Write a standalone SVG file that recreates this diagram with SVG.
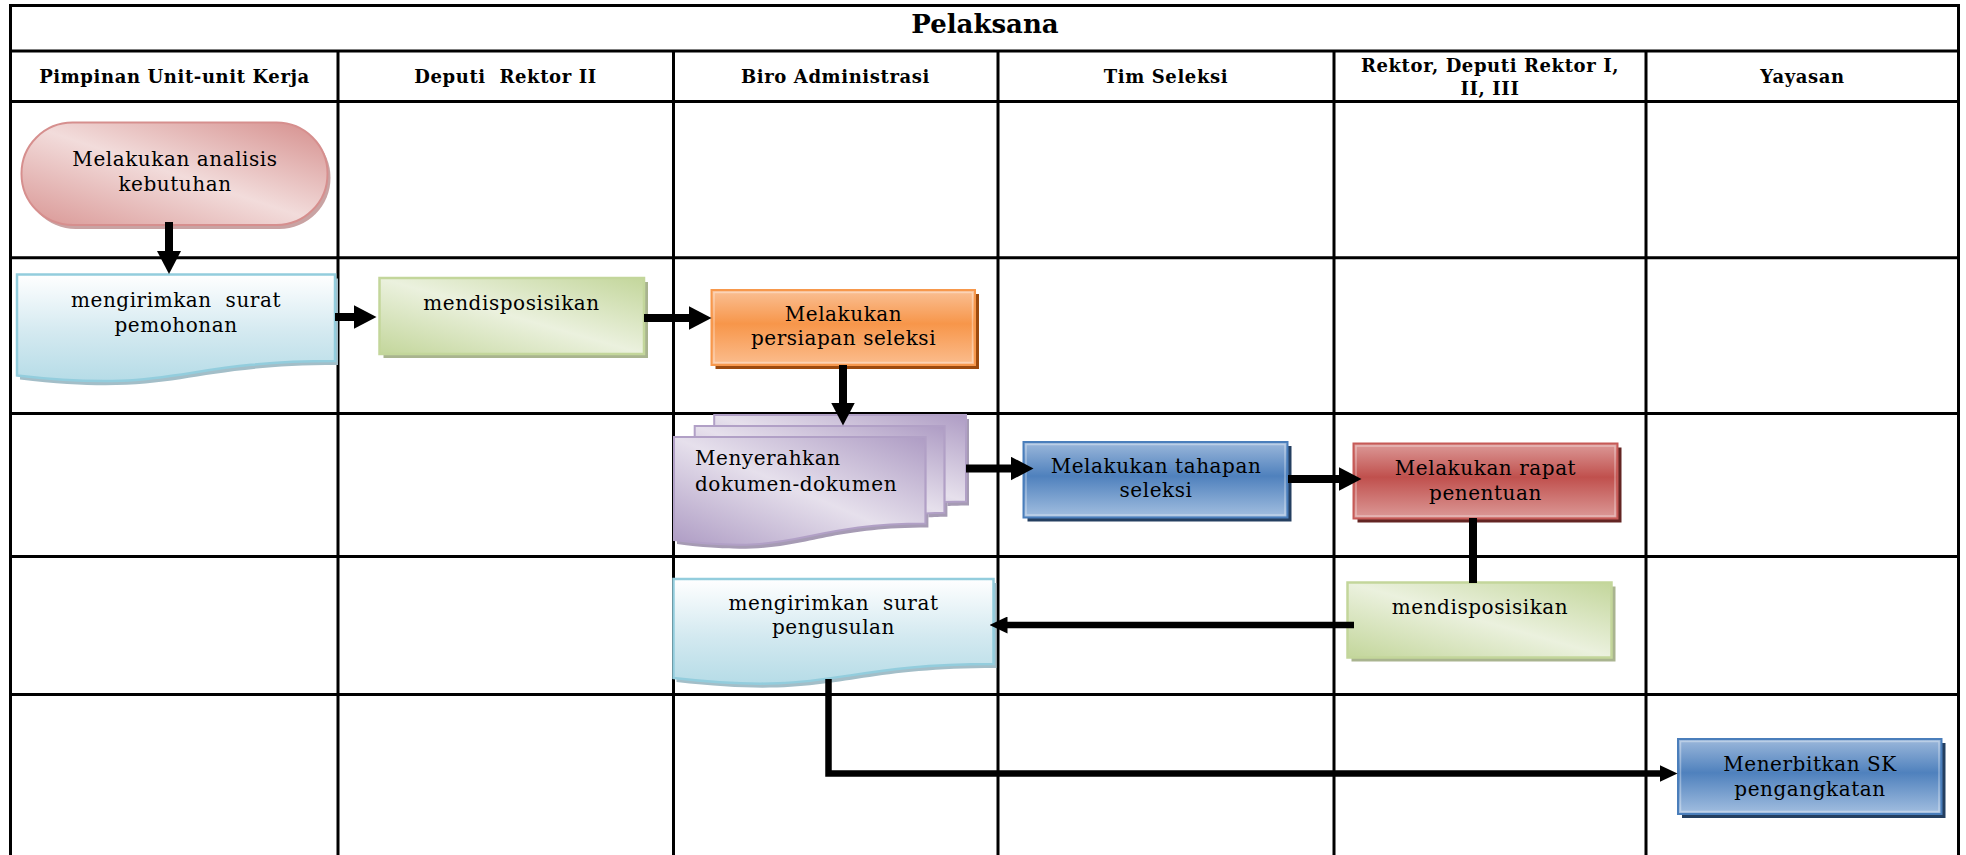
<svg xmlns="http://www.w3.org/2000/svg" width="1966" height="855" viewBox="0 0 1966 855">
  <defs>
    <style>
      .grid { stroke: #000; stroke-width: 3; fill: none; }
      .title { font-family: "DejaVu Serif", "Liberation Serif", serif; font-weight: bold; font-size: 26px; fill: #000; text-anchor: middle; }
      .hdr { font-family: "DejaVu Serif", "Liberation Serif", serif; font-weight: bold; font-size: 18px; letter-spacing: 0.6px; fill: #000; text-anchor: middle; }
      .lbl { font-family: "DejaVu Serif", "Liberation Serif", serif; font-size: 20px; letter-spacing: 0.55px; fill: #000; text-anchor: middle; }
      .lbl-left { text-anchor: start; }
      .flow { stroke: #000; fill: none; stroke-linejoin: miter; }
      .thick { stroke-width: 8; marker-end: url(#head-lg); }
      .thin { stroke-width: 6.5; marker-end: url(#head-sm); }
      .plain { stroke-width: 8; }
      .bevel { fill: none; stroke: #ffffff; stroke-opacity: 0.35; stroke-width: 1.5; }
    </style>

    <!-- diagonal soft fills (dark corners top-right / bottom-left) -->
    <linearGradient id="g-pink" x1="0" y1="1" x2="1" y2="0">
      <stop offset="0" stop-color="#d99694"/>
      <stop offset="0.5" stop-color="#f2dcdb"/>
      <stop offset="1" stop-color="#d58e8c"/>
    </linearGradient>
    <linearGradient id="g-olive" x1="0" y1="1" x2="1" y2="0">
      <stop offset="0" stop-color="#c3d69b"/>
      <stop offset="0.5" stop-color="#ebf1de"/>
      <stop offset="1" stop-color="#c3d69b"/>
    </linearGradient>
    <linearGradient id="g-purple" x1="0" y1="1" x2="1" y2="0">
      <stop offset="0" stop-color="#ae9cc4"/>
      <stop offset="0.5" stop-color="#e6e0ec"/>
      <stop offset="1" stop-color="#ae9cc4"/>
    </linearGradient>
    <!-- vertical fills -->
    <linearGradient id="g-aqua" x1="0" y1="0" x2="0" y2="1">
      <stop offset="0" stop-color="#ffffff"/>
      <stop offset="0.55" stop-color="#d3e9f0"/>
      <stop offset="1" stop-color="#b6dce7"/>
    </linearGradient>
    <linearGradient id="g-orange" x1="0" y1="0" x2="0" y2="1">
      <stop offset="0" stop-color="#fac095"/>
      <stop offset="0.45" stop-color="#f7964a"/>
      <stop offset="1" stop-color="#fbbd8e"/>
    </linearGradient>
    <linearGradient id="g-blue" x1="0" y1="0" x2="0" y2="1">
      <stop offset="0" stop-color="#9cb8db"/>
      <stop offset="0.45" stop-color="#4f81bd"/>
      <stop offset="1" stop-color="#a3bfe0"/>
    </linearGradient>
    <linearGradient id="g-red" x1="0" y1="0" x2="0" y2="1">
      <stop offset="0" stop-color="#dc9a98"/>
      <stop offset="0.45" stop-color="#c0504d"/>
      <stop offset="1" stop-color="#dc9a98"/>
    </linearGradient>

    <marker id="head-lg" viewBox="0 0 23 24" markerWidth="23" markerHeight="24" refX="0.5" refY="12" orient="auto" markerUnits="userSpaceOnUse">
      <path d="M0,0 L23,12 L0,24 Z" fill="#000"/>
    </marker>
    <marker id="head-sm" viewBox="0 0 18 17" markerWidth="18" markerHeight="17" refX="0.5" refY="8.5" orient="auto" markerUnits="userSpaceOnUse">
      <path d="M0,0 L18,8.5 L0,17 Z" fill="#000"/>
    </marker>
  </defs>

  <rect x="0" y="0" width="1966" height="855" fill="#ffffff"/>

  <!-- swimlane table -->
  <g id="table">
    <path class="grid" d="M10.5,860 V5.5 H1958.5 V860"/>
    <path class="grid" d="M10.5,51 H1958.5 M10.5,101.5 H1958.5 M10.5,257.7 H1958.5 M10.5,413.5 H1958.5 M10.5,556.5 H1958.5 M10.5,694.5 H1958.5"/>
    <path class="grid" d="M338,51 V860 M673.5,51 V860 M998,51 V860 M1334,51 V860 M1646,51 V860"/>
    <text class="title" x="985" y="33">Pelaksana</text>
    <text class="hdr" x="174.5" y="83">Pimpinan Unit-unit Kerja</text>
    <text class="hdr" x="505.5" y="83" xml:space="preserve">Deputi  Rektor II</text>
    <text class="hdr" x="835.5" y="83">Biro Administrasi</text>
    <text class="hdr" x="1166" y="83">Tim Seleksi</text>
    <text class="hdr" x="1490" y="71.5">Rektor, Deputi Rektor I,</text>
    <text class="hdr" x="1490" y="95">II, III</text>
    <text class="hdr" x="1802.5" y="83">Yayasan</text>
  </g>

  <!-- start terminator -->
  <g id="analisis-kebutuhan">
    <rect x="24.5" y="126.5" width="306" height="102.5" rx="51" fill="#c9a3a3"/>
    <rect x="21.5" y="122.5" width="306" height="102.5" rx="51" fill="url(#g-pink)" stroke="#d68f8e" stroke-width="2"/>
    <text class="lbl" x="175" y="166">Melakukan analisis</text>
    <text class="lbl" x="175" y="191">kebutuhan</text>
  </g>

  <g id="surat-pemohonan">
    <path d="M17,274.5 H335 V361.1 C176,361.1 176,394.1 17,375.4 Z" transform="translate(3,4)" fill="#a3bec8"/>
    <path d="M17,274.5 H335 V361.1 C176,361.1 176,394.1 17,375.4 Z" fill="url(#g-aqua)" stroke="#93cddd" stroke-width="2.5"/>
    <text class="lbl" x="176" y="306.5" xml:space="preserve">mengirimkan  surat</text>
    <text class="lbl" x="176" y="331.5">pemohonan</text>
  </g>

  <g id="disposisi-deputi">
    <rect x="383.5" y="282" width="264.5" height="76" fill="#a9b48f"/>
    <rect x="379.5" y="278" width="264.5" height="76" fill="url(#g-olive)" stroke="#c3d69b" stroke-width="2.5"/>
    <text class="lbl" x="511.5" y="310">mendisposisikan</text>
  </g>

  <g id="persiapan-seleksi">
    <rect x="715.5" y="294" width="263.5" height="75" fill="#9c4a0e"/>
    <rect x="711.5" y="290" width="263.5" height="75" fill="url(#g-orange)" stroke="#f7984c" stroke-width="2"/>
    <rect x="714" y="292.5" width="258.5" height="70" class="bevel"/>
    <text class="lbl" x="843.5" y="320.5">Melakukan</text>
    <text class="lbl" x="843.5" y="345">persiapan seleksi</text>
  </g>

  <g id="serah-dokumen">
    <g transform="translate(3,4)" fill="#a69bb4">
      <path d="M714.2,425.9 V415 H966 V501.6 C955.2,501.6 944.4,502.1 944.4,502.1 V425.9 Z"/>
      <path d="M694.7,437.1 V425.9 H944.4 V512.8 C934.9,512.8 925.4,513.4 925.4,513.4 V437.1 Z"/>
      <path d="M674,437.1 H925.4 V523.5 C799.7,523.5 799.7,556.7 674,540.1 Z"/>
    </g>
    <g fill="url(#g-purple)" stroke="#b1a0c6" stroke-width="2">
      <path d="M714.2,425.9 V415 H966 V501.6 C955.2,501.6 944.4,502.1 944.4,502.1 V425.9 Z"/>
      <path d="M694.7,437.1 V425.9 H944.4 V512.8 C934.9,512.8 925.4,513.4 925.4,513.4 V437.1 Z"/>
      <path d="M674,437.1 H925.4 V523.5 C799.7,523.5 799.7,556.7 674,540.1 Z"/>
    </g>
    <text class="lbl lbl-left" x="695" y="465">Menyerahkan</text>
    <text class="lbl lbl-left" x="695" y="490.5">dokumen-dokumen</text>
  </g>

  <g id="tahapan-seleksi">
    <rect x="1027.5" y="446" width="264" height="75.5" fill="#243f60"/>
    <rect x="1023.5" y="442" width="264" height="75.5" fill="url(#g-blue)" stroke="#4a7ebb" stroke-width="2"/>
    <rect x="1026" y="444.5" width="259" height="70.5" class="bevel"/>
    <text class="lbl" x="1156" y="472.5">Melakukan tahapan</text>
    <text class="lbl" x="1156" y="497">seleksi</text>
  </g>

  <g id="rapat-penentuan">
    <rect x="1357.5" y="447.5" width="264" height="75" fill="#632523"/>
    <rect x="1353.5" y="443.5" width="264" height="75" fill="url(#g-red)" stroke="#c65a57" stroke-width="2"/>
    <rect x="1356" y="446" width="259" height="70" class="bevel"/>
    <text class="lbl" x="1485.5" y="475">Melakukan rapat</text>
    <text class="lbl" x="1485.5" y="499.5">penentuan</text>
  </g>

  <g id="disposisi-rektor">
    <rect x="1351.5" y="586.5" width="264" height="75" fill="#a9b48f"/>
    <rect x="1347.5" y="582.5" width="264" height="75" fill="url(#g-olive)" stroke="#c3d69b" stroke-width="2.5"/>
    <text class="lbl" x="1480" y="614">mendisposisikan</text>
  </g>

  <g id="surat-pengusulan">
    <path d="M673.5,579 H993.5 V664 C833.5,664 833.5,696.4 673.5,678 Z" transform="translate(3,4)" fill="#a3bec8"/>
    <path d="M673.5,579 H993.5 V664 C833.5,664 833.5,696.4 673.5,678 Z" fill="url(#g-aqua)" stroke="#93cddd" stroke-width="2.5"/>
    <text class="lbl" x="833.5" y="610" xml:space="preserve">mengirimkan  surat</text>
    <text class="lbl" x="833.5" y="634">pengusulan</text>
  </g>

  <g id="sk-pengangkatan">
    <rect x="1682" y="743" width="263.5" height="75" fill="#243f60"/>
    <rect x="1678" y="739" width="263.5" height="75" fill="url(#g-blue)" stroke="#4a7ebb" stroke-width="2"/>
    <rect x="1680.5" y="741.5" width="258.5" height="70" class="bevel"/>
    <text class="lbl" x="1810" y="771">Menerbitkan SK</text>
    <text class="lbl" x="1810" y="796">pengangkatan</text>
  </g>

  <!-- flow connectors -->
  <g id="connectors">
    <path class="flow thick" d="M169,222 V251.5"/>
    <path class="flow thick" d="M335,317 H354"/>
    <path class="flow thick" d="M644,318 H689"/>
    <path class="flow thick" d="M843,365 V403"/>
    <path class="flow thick" d="M966,468.5 H1011"/>
    <path class="flow thick" d="M1288,479 H1339"/>
    <path class="flow plain" d="M1473,518 V583"/>
    <path class="flow thin" d="M1354,625 H1007"/>
    <path class="flow thin" d="M828.5,679 V773.5 H1660"/>
  </g>
</svg>
